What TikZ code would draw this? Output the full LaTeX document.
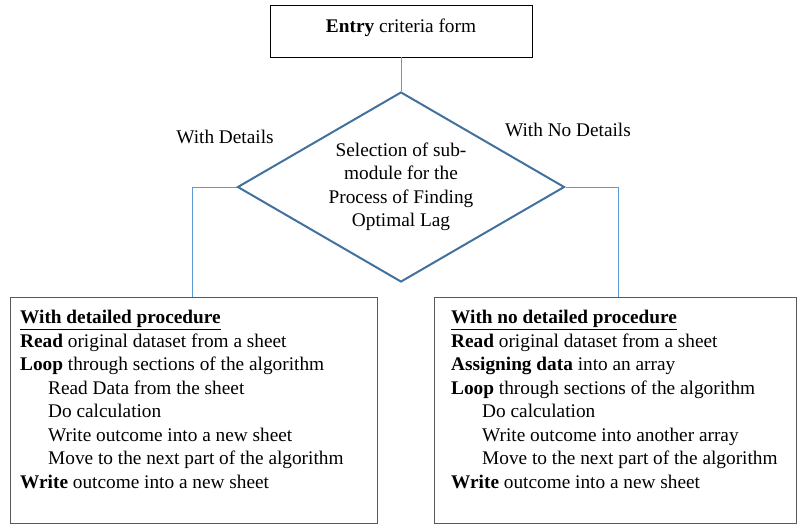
\documentclass[tikz,border=0pt]{standalone}
\usepackage{fontspec}
\setmainfont{Liberation Serif}
\usetikzlibrary{shapes.geometric,positioning}
\definecolor{linkblue}{HTML}{5B9BD5}
\definecolor{diablue}{HTML}{41719C}
\definecolor{boxgray}{HTML}{595959}
\tikzset{
	txt/.style={font=\fontsize{19.3}{23.5}\selectfont},
	entrybox/.style={draw=black,line width=0.9pt,minimum width=262pt,minimum height=52pt,txt,text depth=10pt},
	selbox/.style={diamond,draw=diablue,line width=2pt,minimum width=327pt,minimum height=190pt,inner sep=0pt},
	seltxt/.style={txt,align=center,inner sep=0pt},
	listbox/.style={draw=boxgray,line width=0.9pt,anchor=north west,inner sep=0pt},
	listtxt/.style={txt,align=left,anchor=north west,inner sep=0pt},
	link/.style={draw=linkblue,line width=0.9pt},
	branch/.style={txt,fill=white}
}
\begin{document}
\begin{tikzpicture}[x=1pt,y=-1pt]
		\useasboundingbox (0,0) rectangle (797,525);
		% top and decision
		\node[entrybox] (entry) at (401,31) {\textbf{Entry} criteria form};
		\node[selbox] (sel) at (401,187) {};
		\node[seltxt] (seltext) at (sel.center) {Selection of sub-\\module for the\\Process of Finding\\Optimal Lag};
		\node[branch] (wd) at (225,137) {With Details};
		\node[branch] (wnd) at (568,130) {With No Details};
		% the two sub-modules
		\node[listbox,minimum width=367pt,minimum height=226pt] (lbox) at (10,297) {};
		\node[listbox,minimum width=362pt,minimum height=226pt] (rbox) at (434,297) {};
		\node[listtxt] (ltext) at ([xshift=10pt,yshift=-13pt]lbox.north west) {\underline{\textbf{With detailed procedure}}\\
			\textbf{Read} original dataset from a sheet\\
			\textbf{Loop} through sections of the algorithm\\
			\hspace*{28pt}Read Data from the sheet\\
			\hspace*{28pt}Do calculation\\
			\hspace*{28pt}Write outcome into a new sheet\\
			\hspace*{28pt}Move to the next part of the algorithm\\
			\textbf{Write} outcome into a new sheet};
		\node[listtxt] (rtext) at ([xshift=17pt,yshift=-13pt]rbox.north west) {\underline{\textbf{With no detailed procedure}}\\
			\textbf{Read} original dataset from a sheet\\
			\textbf{Assigning data} into an array\\
			\textbf{Loop} through sections of the algorithm\\
			\hspace*{31pt}Do calculation\\
			\hspace*{31pt}Write outcome into another array\\
			\hspace*{31pt}Move to the next part of the algorithm\\
			\textbf{Write} outcome into a new sheet};
		% connectors
		\draw[link] (entry.south) -- (sel.north);
		\draw[link] (sel.west) -| ([xshift=-1.5pt]lbox.north);
		\draw[link] (sel.east) -| ([xshift=3pt]rbox.north);
	\end{tikzpicture}
\end{document}
